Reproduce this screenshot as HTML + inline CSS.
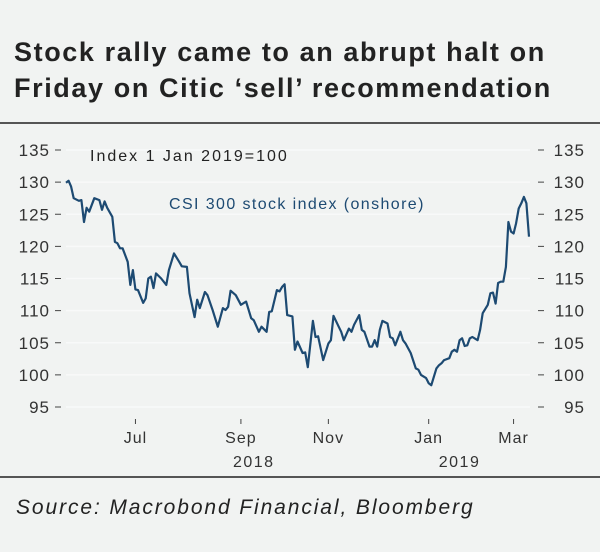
<!DOCTYPE html>
<html><head><meta charset="utf-8"><style>
body{margin:0;background:#fff}
#wrap{position:relative;width:600px;height:552px;background:#f1f3f2;font-family:"Liberation Sans",sans-serif;overflow:hidden}
.title{position:absolute;left:14px;top:34px;font-size:27px;font-weight:bold;color:#222;line-height:36px;letter-spacing:1.6px}
.src{position:absolute;left:16px;top:496px;font-size:21px;font-style:italic;color:#222;letter-spacing:1.9px}
.hr{position:absolute;left:0;width:600px;height:2px;background:#555}
</style></head><body>
<div id="wrap">
<div class="title">Stock rally came to an abrupt halt on<br>Friday on Citic ‘sell’ recommendation</div>
<div class="hr" style="top:122px"></div>
<div class="hr" style="top:476px"></div>
<div class="src">Source: Macrobond Financial, Bloomberg</div>
<svg id="chart" width="600" height="552" style="position:absolute;left:0;top:0"></svg>
</div>
<script>
const yTicks=[95,100,105,110,115,120,125,130,135];
const monthLabels=["Jul","Sep","Nov","Jan","Mar"];
const monthIdx=[27,68,102,141,174];
const yearLabels=["2018","2019"];
const yearIdx=[73,153];
const days=[0,1,2,3,5,6,7,8,9,11,13,14,15,16,18,19,20,21,22,24,25,26,27,28,30,31,32,33,34,35,37,39,40,42,44,45,47,48,50,51,52,54,55,57,59,61,62,63,64,66,68,70,72,73,75,76,78,79,80,82,83,84,85,86,88,89,90,92,93,94,96,97,98,100,102,103,104,106,107,108,110,111,112,114,115,116,118,119,120,121,122,123,125,126,127,128,130,131,132,134,136,137,138,140,141,142,144,145,146,147,149,150,151,152,153,154,155,156,157,158,160,161,162,164,165,166,167,168,169,170,171,172,173,174,175,176,177,178,179,180];
const values=[129.9,130.2,129.3,127.5,127.1,127.2,123.8,126,125.4,127.5,127.2,125.7,127,126,124.6,120.7,120.5,119.7,119.7,117.6,114,116.3,113.3,113.2,111.2,111.9,115,115.3,113.5,115.8,115,114,116.3,118.9,117.6,116.9,116.8,112.7,109,111.7,110.4,112.9,112.4,110.1,107.5,110.4,110.1,110.6,113.1,112.4,110.9,111.4,108.8,108.5,106.7,107.5,106.7,109.8,109.9,113.2,113,113.7,114.1,109.3,109.1,103.9,105.2,103.4,103.5,101.2,108.4,105.9,106,102.3,104.9,105.4,109.2,107.5,106.7,105.4,107.2,106.7,107.8,109.3,107,106.7,104.4,104.4,105.4,104.4,107,108.4,108,105.9,105.7,104.6,106.7,105.4,104.9,103.4,101,100.8,100,99.5,98.7,98.4,101,101.5,101.8,102.3,102.6,103.6,103.9,103.6,105.4,105.7,104.5,104.6,105.7,105.9,105.4,107,109.6,110.9,112.7,112.8,111.1,114.3,114.5,114.5,116.8,123.8,122.3,122,123.6,125.9,126.7,127.7,126.7,121.5];
const svg=document.getElementById('chart');
const NS='http://www.w3.org/2000/svg';
const x=i=>66+i*(529-66)/180;
const y=v=>150+(135-v)*(407-150)/40;
function mk(t,a){const e=document.createElementNS(NS,t);for(const k in a)e.setAttribute(k,a[k]);svg.appendChild(e);return e;}
const F='Liberation Sans,sans-serif';
yTicks.forEach(v=>{
 const g=mk('line',{x1:66,x2:530,y1:y(v),y2:y(v),stroke:'#f8f9f9','stroke-width':1.5});
 
 
 const l=mk('text',{x:50,y:y(v)+6,'text-anchor':'end','font-size':17,fill:'#333','font-family':F,'letter-spacing':1});
 l.textContent=v;
 
 
 const lt=mk('line',{x1:55,x2:61,y1:y(v),y2:y(v),stroke:'#444','stroke-width':1});
 
 
 const r=mk('text',{x:585,y:y(v)+6,'text-anchor':'end','font-size':17,fill:'#333','font-family':F,'letter-spacing':1});
 r.textContent=v;
 
 
 const rt=mk('line',{x1:538,x2:544,y1:y(v),y2:y(v),stroke:'#444','stroke-width':1});
 
 
});
monthLabels.forEach((m,k)=>{
 const t=mk('line',{x1:x(monthIdx[k]),x2:x(monthIdx[k]),y1:419,y2:424,stroke:'#444','stroke-width':1});
 
 
 const l=mk('text',{x:x(monthIdx[k]),y:443,'text-anchor':'middle','font-size':16,fill:'#333','font-family':F,'letter-spacing':1});
 l.textContent=m;
 
 
});
yearLabels.forEach((m,k)=>{
 const l=mk('text',{x:x(yearIdx[k]),y:467,'text-anchor':'middle','font-size':16,fill:'#333','font-family':F,'letter-spacing':1.5});
 l.textContent=m;
 
 
});
const p=mk('polyline',{points:values.map((v,i)=>x(days[i]).toFixed(1)+','+y(v).toFixed(1)).join(' '),fill:'none',stroke:'#1d4a72','stroke-width':2.2,'stroke-linejoin':'round'});


const a=mk('text',{x:90,y:161,'font-size':16,fill:'#222','font-family':F,'letter-spacing':2});
a.textContent='Index 1 Jan 2019=100';


const b=mk('text',{x:169,y:209,'font-size':16,fill:'#1d4a72','font-family':F,'letter-spacing':1.4});
b.textContent='CSI 300 stock index (onshore)';


</script>
</body></html>
